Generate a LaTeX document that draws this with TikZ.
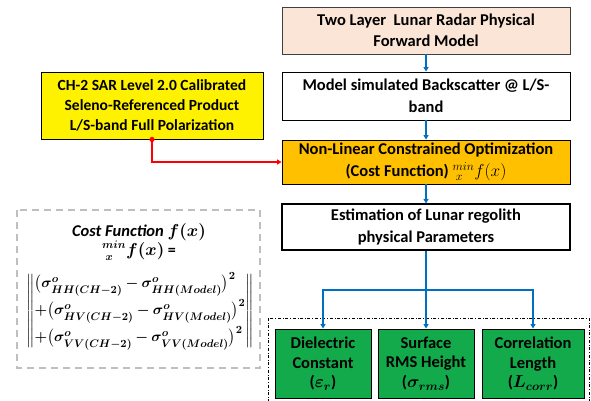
\documentclass[tikz,border=0pt]{standalone}
\usepackage{amsmath,amssymb,bm}
\usepackage{fontspec}
\setmainfont{Carlito}
\usepackage{tikz}
\usetikzlibrary{arrows.meta,calc,positioning}
\definecolor{peach}{HTML}{FBE5D6}
\definecolor{optorange}{HTML}{FFC000}
\definecolor{paramgreen}{HTML}{12AA4A}
\definecolor{flowblue}{HTML}{0070C0}
\tikzset{box/.style={draw,align=center,line width=0.9pt,inner sep=2pt,
    font=\bfseries\fontsize{16.5}{21.5}\selectfont,minimum width=288pt},
  parbox/.style={box,fill=paramgreen,minimum height=69pt,font=\bfseries\fontsize{16.5}{19.5}\selectfont},
  costtext/.style={font=\bfseries\mathversion{bold}\fontsize{16}{18}\selectfont},
  arr/.style={-{Triangle[length=4.5pt,width=5pt]},line width=1.3pt,draw=flowblue},
  redarr/.style={-{Triangle[length=4.5pt,width=5pt]},line width=1.3pt,draw=red}}

\begin{document}
\begin{tikzpicture}[x=1pt,y=-1pt]
\useasboundingbox (0,0) rectangle (591,400);
% main chain on the right
\node[box,fill=peach,draw=black!75,minimum height=47pt] (fwd) at (426,30.5)
  {Two Layer\ \ Lunar Radar Physical\\Forward Model};
\node[box,minimum height=48pt] (sim) at (426,96)
  {Model simulated\ Backscatter @ L/S-\\band};
\node[box,fill=optorange,minimum height=44pt] (opt) at (426,162)
  {Non-Linear Constrained Optimization\\(Cost Function) $^{min}_{\;x}f(x)$};
\node[box,minimum height=46pt,line width=1.1pt] (est) at (426,227)
  {Estimation of Lunar regolith\\physical Parameters};
% input product
\node[box,fill=yellow,minimum width=222pt,minimum height=67pt,
  font=\bfseries\fontsize{15.5}{20}\selectfont] (sar) at (152,105.5)
  {CH-2 SAR Level 2.0 Calibrated\\Seleno-Referenced Product\\L/S-band Full Polarization};
% retrieved parameters
\draw[dash dot,line width=0.7pt] (268,318) rectangle (589,403);
\node[parbox,minimum width=96pt] (eps) at (323,363.5) {Dielectric\\Constant\\($\bm{\varepsilon_r}$)};
\node[parbox,minimum width=96pt] (rms) at (426,363.5) {Surface\\RMS Height\\($\bm{\sigma_{rms}}$)};
\node[parbox,minimum width=102pt] (lc) at (533,363.5) {Correlation\\Length\\($\bm{L_{corr}}$)};
% cost function
\draw[dashed,dash pattern=on 7pt off 5pt,line width=1.4pt,black!25] (17,210) rectangle (260,368);
\node[costtext,font=\bfseries\itshape\mathversion{bold}\fontsize{16.5}{18}\selectfont] (cfname) at (139,232) {Cost Function $f(x)$};
\node[costtext] (cfmin) at (139,251) {$^{min}_{\;x}f(x)$ =};
\node[costtext,inner sep=0pt,font=\bfseries\fontsize{15.2}{18}\selectfont] (cfexpr) at (140,311) {$\displaystyle\left\|\begin{array}{@{}l@{}}
  \bm{\big(\sigma^{o}_{HH(CH-2)}-\sigma^{o}_{HH(Model)}\big)^{2}}\\[6pt]
  \bm{+\big(\sigma^{o}_{HV(CH-2)}-\sigma^{o}_{HV(Model)}\big)^{2}}\\[6pt]
  \bm{+\big(\sigma^{o}_{VV(CH-2)}-\sigma^{o}_{VV(Model)}\big)^{2}}
  \end{array}\right\|$};
% connectors
\draw[arr] (fwd) -- (sim);
\draw[arr] (sim) -- (opt);
\draw[arr] (opt) -- (est);
\coordinate (split) at (426,290);
\draw[line width=1.3pt,flowblue] (est.south) -- (split);
\draw[arr] (split) -| (eps.north);
\draw[arr] (split) -- (rms.north);
\draw[arr] (split) -| (lc.north);
\fill[red] (sar.south) circle (2.6pt);
\draw[redarr] (sar.south) |- (opt.west);
\end{tikzpicture}
\end{document}
